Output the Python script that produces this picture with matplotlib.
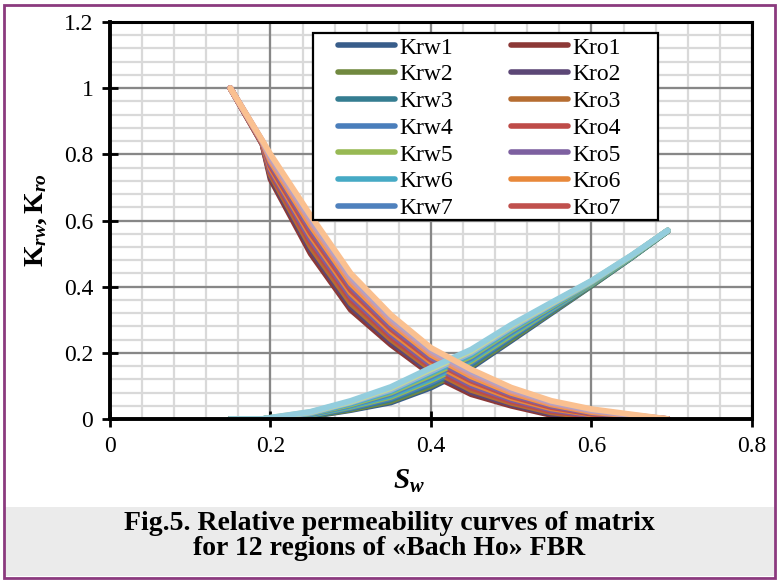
import matplotlib
matplotlib.use("Agg")
import numpy as np
import matplotlib.pyplot as plt
from matplotlib.lines import Line2D
from matplotlib.patches import Rectangle
from matplotlib.ticker import MultipleLocator, FuncFormatter

plt.rcParams['font.family'] = ['Liberation Serif', 'DejaVu Serif']
plt.rcParams['mathtext.fontset'] = 'custom'
plt.rcParams['mathtext.rm'] = 'Liberation Serif:bold'
plt.rcParams['mathtext.it'] = 'Liberation Serif:italic:bold'
plt.rcParams['mathtext.bf'] = 'Liberation Serif:bold'

# water saturation points shared by all regions
sw = [0.15, 0.19, 0.20, 0.25, 0.30, 0.35, 0.40, 0.45, 0.50, 0.55, 0.60, 0.65, 0.695]

# relative permeability to water, regions 1..12
krw1 = [0, 0, 0.001, 0.008, 0.027, 0.050, 0.095, 0.155, 0.237, 0.320, 0.403, 0.488, 0.568]
krw2 = [0, 0, 0.001, 0.009, 0.029, 0.054, 0.100, 0.160, 0.241, 0.323, 0.404, 0.489, 0.568]
krw3 = [0, 0, 0.002, 0.010, 0.032, 0.059, 0.106, 0.165, 0.246, 0.326, 0.406, 0.489, 0.569]
krw4 = [0, 0, 0.002, 0.012, 0.034, 0.063, 0.111, 0.170, 0.250, 0.329, 0.407, 0.490, 0.569]
krw5 = [0, 0, 0.002, 0.013, 0.037, 0.067, 0.117, 0.175, 0.254, 0.332, 0.408, 0.490, 0.569]
krw6 = [0, 0, 0.002, 0.014, 0.039, 0.071, 0.122, 0.180, 0.259, 0.334, 0.410, 0.491, 0.569]
krw7 = [0, 0, 0.003, 0.015, 0.042, 0.076, 0.128, 0.185, 0.263, 0.337, 0.411, 0.492, 0.570]
krw8 = [0, 0, 0.003, 0.017, 0.044, 0.080, 0.133, 0.190, 0.268, 0.340, 0.412, 0.492, 0.570]
krw9 = [0, 0, 0.003, 0.018, 0.047, 0.084, 0.139, 0.195, 0.272, 0.343, 0.414, 0.493, 0.570]
krw10 = [0, 0, 0.003, 0.019, 0.050, 0.088, 0.144, 0.200, 0.276, 0.346, 0.415, 0.494, 0.570]
krw11 = [0, 0, 0.004, 0.021, 0.052, 0.093, 0.150, 0.205, 0.281, 0.349, 0.417, 0.494, 0.570]
krw12 = [0, 0, 0.004, 0.022, 0.055, 0.097, 0.155, 0.210, 0.285, 0.352, 0.418, 0.495, 0.570]

# relative permeability to oil, regions 1..12
kro1 = [1.00, 0.830, 0.725, 0.500, 0.330, 0.225, 0.135, 0.075, 0.040, 0.012, 0.002, 0.000, 0.0]
kro2 = [1.00, 0.831, 0.733, 0.512, 0.341, 0.233, 0.142, 0.082, 0.045, 0.016, 0.004, 0.001, 0.0]
kro3 = [1.00, 0.832, 0.739, 0.521, 0.350, 0.241, 0.150, 0.088, 0.049, 0.020, 0.006, 0.002, 0.0]
kro4 = [1.00, 0.833, 0.746, 0.533, 0.362, 0.249, 0.157, 0.095, 0.054, 0.024, 0.009, 0.003, 0.0]
kro5 = [1.00, 0.834, 0.752, 0.543, 0.371, 0.257, 0.164, 0.102, 0.059, 0.028, 0.011, 0.004, 0.0]
kro6 = [1.00, 0.835, 0.759, 0.554, 0.381, 0.265, 0.172, 0.109, 0.064, 0.032, 0.014, 0.006, 0.0]
kro7 = [1.00, 0.836, 0.765, 0.563, 0.390, 0.273, 0.179, 0.116, 0.069, 0.036, 0.016, 0.007, 0.0]
kro8 = [1.00, 0.837, 0.772, 0.575, 0.401, 0.281, 0.186, 0.122, 0.074, 0.040, 0.019, 0.008, 0.0]
kro9 = [1.00, 0.838, 0.779, 0.585, 0.410, 0.290, 0.194, 0.129, 0.079, 0.044, 0.021, 0.010, 0.0]
kro10 = [1.00, 0.839, 0.786, 0.596, 0.421, 0.298, 0.201, 0.136, 0.085, 0.048, 0.024, 0.011, 0.0]
kro11 = [1.00, 0.840, 0.793, 0.605, 0.430, 0.306, 0.208, 0.143, 0.090, 0.051, 0.027, 0.012, 0.0]
kro12 = [1.00, 0.841, 0.800, 0.615, 0.440, 0.315, 0.215, 0.150, 0.095, 0.055, 0.030, 0.014, 0.0]

krw_all = [krw1, krw2, krw3, krw4, krw5, krw6, krw7, krw8, krw9, krw10, krw11, krw12]
kro_all = [kro1, kro2, kro3, kro4, kro5, kro6, kro7, kro8, kro9, kro10, kro11, kro12]

# colours per region (water, oil) - office-style palette
krw_colors = ['#385D8A', '#71893F', '#357D91', '#4A7EBB', '#98B954', '#46AAC5',
              '#4F81BD', '#9BBB59', '#4BACC6', '#95B3D7', '#C3D69B', '#93CDDD']
kro_colors = ['#8C3836', '#5C4776', '#B66D31', '#BE4B48', '#7D60A0', '#E8883A',
              '#C0504D', '#8064A2', '#F79646', '#D99694', '#B2A2C7', '#FAC090']

fig = plt.figure(figsize=(7.79, 5.84), dpi=100)
ax = fig.add_axes([0.1412, 0.2825, 0.8241, 0.6798])

lw = 4.2
for i in range(12):
    ax.plot(sw, krw_all[i], color=krw_colors[i], lw=lw,
            solid_capstyle='round', solid_joinstyle='round')
    ax.plot(sw, kro_all[i], color=kro_colors[i], lw=lw,
            solid_capstyle='round', solid_joinstyle='round')

ax.set_xlim(0, 0.8)
ax.set_ylim(0, 1.2)
ax.xaxis.set_major_locator(MultipleLocator(0.2))
ax.yaxis.set_major_locator(MultipleLocator(0.2))
fmt = FuncFormatter(lambda v, _: f'{v:g}')
ax.xaxis.set_major_formatter(fmt)
ax.yaxis.set_major_formatter(fmt)

# light minor grid under the darker major grid
for x in np.arange(0.04, 0.8, 0.04):
    ax.axvline(x, color='#d9d9d9', lw=1.6, zorder=0.2)
for y in np.arange(0.04, 1.2, 0.04):
    ax.axhline(y, color='#d9d9d9', lw=1.6, zorder=0.2)
ax.set_axisbelow(True)
ax.grid(which='major', color='#878787', lw=1.6)

ax.tick_params(which='major', direction='inout', length=12, width=2,
               labelsize=17, color='black', pad=6)
for s in ax.spines.values():
    s.set_color('black')
    s.set_linewidth(2.2)
ax.spines['left'].set_linewidth(2.8)
ax.spines['bottom'].set_linewidth(2.8)

ax.set_xlabel(r'$S_w$', fontsize=21)
ax.xaxis.set_label_coords(0.465, -0.122)
ax.set_ylabel(r'$\mathrm{K}_{rw}\mathrm{,}\,\mathrm{K}_{ro}$', fontsize=20)
ax.yaxis.set_label_coords(-0.095, 0.5)

# legend box with the first seven regions of each phase
ax.add_patch(Rectangle((0.316, 0.501), 0.538, 0.471, transform=ax.transAxes,
                       facecolor='white', edgecolor='black', lw=1.6, zorder=4))
handles = []
labels = []
for i in range(7):
    handles.append(Line2D([], [], color=krw_colors[i], lw=4, solid_capstyle='round'))
    labels.append(f'Krw{i + 1}')
for i in range(7):
    handles.append(Line2D([], [], color=kro_colors[i], lw=4, solid_capstyle='round'))
    labels.append(f'Kro{i + 1}')
ax.legend(handles, labels, ncol=2, loc='upper left', bbox_to_anchor=(0.355, 0.962),
          frameon=False, borderpad=0, borderaxespad=0, handlelength=2.4,
          handletextpad=0.2, columnspacing=2.45, labelspacing=0.22, fontsize=17)

# caption panel and outer frame
fig.patches.append(Rectangle((5 / 779, 1 - 576 / 584), 769 / 779, 69 / 584,
                             transform=fig.transFigure, facecolor='#ebebeb',
                             edgecolor='none', zorder=0))
fig.patches.append(Rectangle((4 / 779, 1 - 578 / 584), 771 / 779, 573 / 584,
                             transform=fig.transFigure, fill=False,
                             edgecolor='#8B3A7E', lw=2, zorder=1))
fig.text(0.5, 1 - 536 / 584,
         'Fig.5. Relative permeability curves of matrix\nfor 12 regions of «Bach Ho» FBR',
         ha='center', va='center', fontsize=20, fontweight='bold', linespacing=1.05)

fig.savefig('out.png', dpi=100)
